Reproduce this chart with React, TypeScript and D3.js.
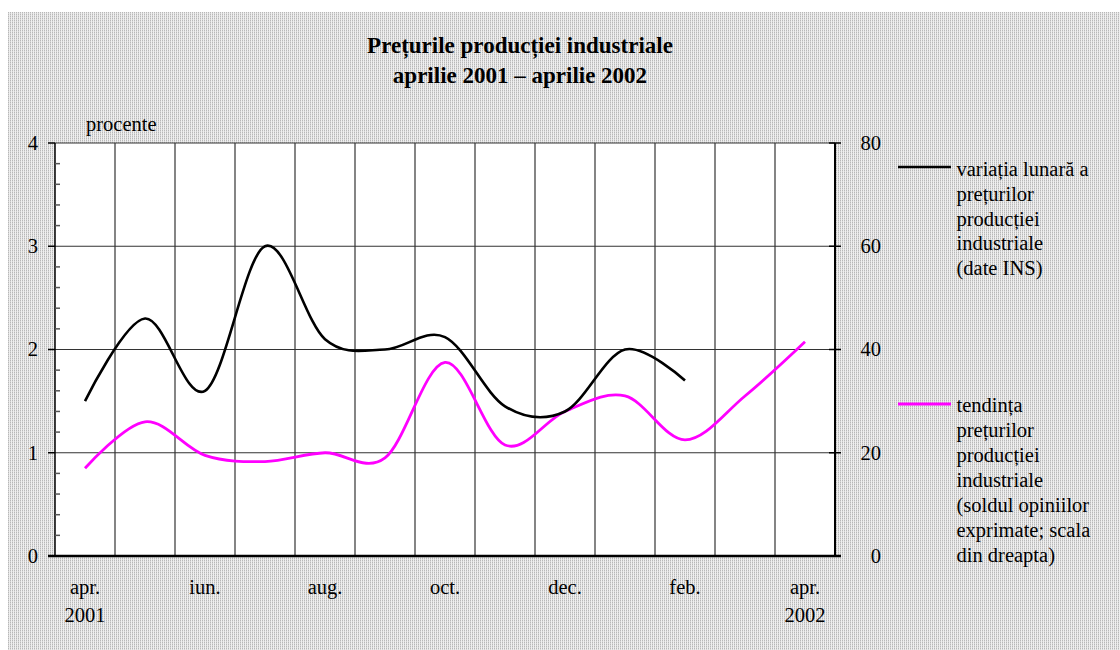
import React from "react";
import * as d3 from "d3";

const monthLabels = ["apr.", "mai", "iun.", "iul.", "aug.", "sep.", "oct.", "nov.", "dec.", "ian.", "feb.", "mar.", "apr."];
const yearLabels = ["2001", "", "", "", "", "", "", "", "", "", "", "", "2002"];
const shownMonthIdx = [0, 2, 4, 6, 8, 10, 12];
const variatiaLunara = [1.5, 2.3, 1.6, 3.0, 2.1, 2.0, 2.12, 1.45, 1.4, 2.0, 1.7];
const tendinta = [17, 26, 19.5, 18.3, 20, 19, 37.5, 21.5, 28, 31, 22.5, 31, 41.5];
const leftTicks = [0, 1, 2, 3, 4];
const rightTicks = [0, 20, 40, 60, 80];
const legendBlack = ["variația lunară a", "prețurilor", "producției", "industriale", "(date INS)"];
const legendMagenta = ["tendința", "prețurilor", "producției", "industriale", "(soldul opiniilor", "exprimate; scala", "din dreapta)"];
const titleLines = ["Prețurile producției industriale", "aprilie 2001 – aprilie 2002"];

const FONT = "'Liberation Serif', 'Times New Roman', serif";
const FS = 20.5;

export default function App() {
  const left = 55, right = 835, top = 143, bottom = 556;
  const x = d3.scaleBand<number>().domain(d3.range(monthLabels.length)).range([left, right]).padding(0);
  const cx = (i: number) => (x(i) as number) + x.bandwidth() / 2;
  const yL = d3.scaleLinear().domain([0, 4]).range([bottom, top]);
  const yR = d3.scaleLinear().domain([0, 80]).range([bottom, top]);
  const curve = d3.curveCatmullRom.alpha(0);
  const lineL = d3.line<number>().x((_, i) => cx(i)).y((d) => yL(d)).curve(curve);
  const lineR = d3.line<number>().x((_, i) => cx(i)).y((d) => yR(d)).curve(curve);
  const minorTicks = d3.range(0, 4.0001, 0.2).filter((v) => Math.abs(v - Math.round(v)) > 0.01);
  const boundaries = d3.range(1, monthLabels.length).map((i) => x(i) as number);

  return (
    <svg width={1120} height={650} style={{ position: "absolute", left: 0, top: 0 }} fontFamily={FONT}>
      <defs>
        <pattern id="bgpat" width={2} height={2} patternUnits="userSpaceOnUse">
          <rect width={2} height={2} fill="#efefef" />
          <rect x={0} y={0} width={1} height={1} fill="#b8b8b8" />
          <rect x={0} y={1} width={1} height={1} fill="#d6d6d6" />
        </pattern>
      </defs>
      <rect x={8} y={12} width={1112} height={638} fill="url(#bgpat)" />
      <rect x={left} y={top} width={right - left} height={bottom - top} fill="#ffffff" />

      {titleLines.map((t, i) => (
        <text key={i} x={520} y={53 + i * 30} textAnchor="middle" fontWeight="bold" fontSize={23} fill="#000">
          {t}
        </text>
      ))}
      <text x={86} y={131} fontSize={FS} fill="#000">procente</text>

      {boundaries.map((bx, i) => (
        <line key={"v" + i} x1={bx} x2={bx} y1={top} y2={bottom} stroke="#333" strokeWidth={1.2} />
      ))}
      {leftTicks.filter((v) => v > 0).map((v) => (
        <line key={"h" + v} x1={left} x2={right} y1={yL(v)} y2={yL(v)} stroke="#333" strokeWidth={1.2} />
      ))}

      <line x1={left} x2={left} y1={top} y2={bottom} stroke="#000" strokeWidth={1.5} />
      {leftTicks.map((v) => (
        <g key={"lt" + v}>
          <line x1={left - 7} x2={left} y1={yL(v)} y2={yL(v)} stroke="#000" strokeWidth={1.5} />
          <text x={38} y={yL(v)} dy="0.33em" textAnchor="end" fontSize={FS} fill="#000">{v}</text>
        </g>
      ))}
      {minorTicks.map((v, i) => (
        <line key={"mt" + i} x1={left} x2={left + 5} y1={yL(v)} y2={yL(v)} stroke="#555" strokeWidth={1.5} />
      ))}

      <line x1={right} x2={right} y1={top} y2={bottom} stroke="#000" strokeWidth={2} />
      {rightTicks.map((v) => (
        <g key={"rt" + v}>
          <line x1={right - 6} x2={right + 6} y1={yR(v)} y2={yR(v)} stroke="#000" strokeWidth={1.5} />
          <text x={881} y={yR(v)} dy="0.33em" textAnchor="end" fontSize={FS} fill="#000">{v}</text>
        </g>
      ))}

      <line x1={left - 7} x2={right + 6} y1={bottom} y2={bottom} stroke="#000" strokeWidth={2.5} />
      {shownMonthIdx.map((i) => (
        <g key={"xl" + i}>
          <text x={cx(i)} y={594} textAnchor="middle" fontSize={FS} fill="#000">{monthLabels[i]}</text>
          {yearLabels[i] && (
            <text x={cx(i)} y={622} textAnchor="middle" fontSize={FS} fill="#000">{yearLabels[i]}</text>
          )}
        </g>
      ))}

      <path d={lineR(tendinta) || ""} fill="none" stroke="#ff00ff" strokeWidth={2.8} />
      <path d={lineL(variatiaLunara) || ""} fill="none" stroke="#000" strokeWidth={2.6} />

      <line x1={898} x2={951} y1={167} y2={167} stroke="#000" strokeWidth={2.6} />
      {legendBlack.map((t, i) => (
        <text key={"lb" + i} x={956.5} y={176 + i * 24.8} fontSize={FS} fill="#000">{t}</text>
      ))}
      <line x1={898} x2={951} y1={404} y2={404} stroke="#ff00ff" strokeWidth={2.8} />
      {legendMagenta.map((t, i) => (
        <text key={"lm" + i} x={956.5} y={411.7 + i * 25} fontSize={FS} fill="#000">{t}</text>
      ))}
    </svg>
  );
}
